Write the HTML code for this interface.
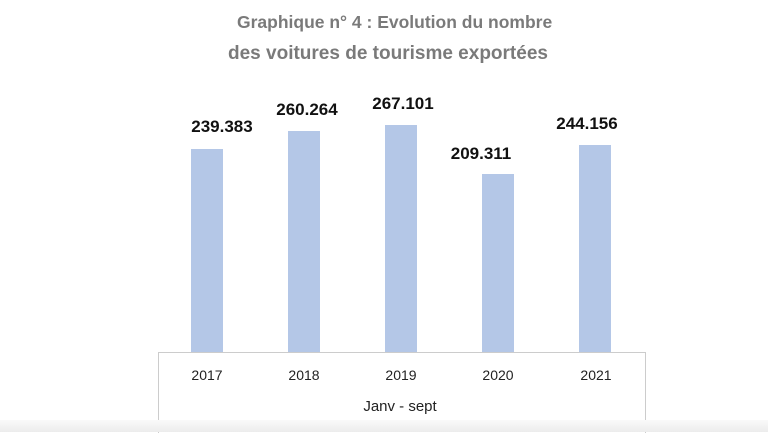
<!DOCTYPE html>
<html><head><style>
body{margin:0;width:768px;height:432px;background:#fff;position:relative;overflow:hidden;font-family:"Liberation Sans",sans-serif}
.t{position:absolute;color:#7a7a7a;font-weight:bold;font-size:17px;white-space:nowrap}
.b{position:absolute;background:#b4c7e7;width:32px}
.v{position:absolute;font-weight:bold;font-size:17px;color:#111;width:100px;text-align:center}
.y{position:absolute;top:367px;font-size:14px;color:#222;width:60px;text-align:center}
</style></head><body>
<div class="t" style="left:237px;top:12px;font-size:17.5px">Graphique n° 4 : Evolution du nombre</div>
<div class="t" style="left:228px;top:43px;font-size:19px">des voitures de tourisme exportées</div>
<div class="b" style="left:191px;top:149px;height:203px"></div>
<div class="b" style="left:288px;top:131px;height:221px"></div>
<div class="b" style="left:385px;top:125px;height:227px"></div>
<div class="b" style="left:482px;top:174px;height:178px"></div>
<div class="b" style="left:579px;top:145px;height:207px"></div>
<div class="v" style="left:172px;top:117px">239.383</div>
<div class="v" style="left:257px;top:100px">260.264</div>
<div class="v" style="left:353px;top:94px">267.101</div>
<div class="v" style="left:431px;top:144px">209.311</div>
<div class="v" style="left:537px;top:114px">244.156</div>
<div style="position:absolute;left:158px;top:352px;width:486px;height:80px;border:1px solid #ccc;border-bottom:none"></div>
<div class="y" style="left:177px">2017</div>
<div class="y" style="left:274px">2018</div>
<div class="y" style="left:371px">2019</div>
<div class="y" style="left:468px">2020</div>
<div class="y" style="left:566px">2021</div>
<div style="position:absolute;left:340px;top:398px;width:120px;text-align:center;font-size:15px;color:#222">Janv - sept</div>
<div style="position:absolute;left:0;top:420px;width:768px;height:12px;background:linear-gradient(#fafafa,#ececec)"></div>
</body></html>
